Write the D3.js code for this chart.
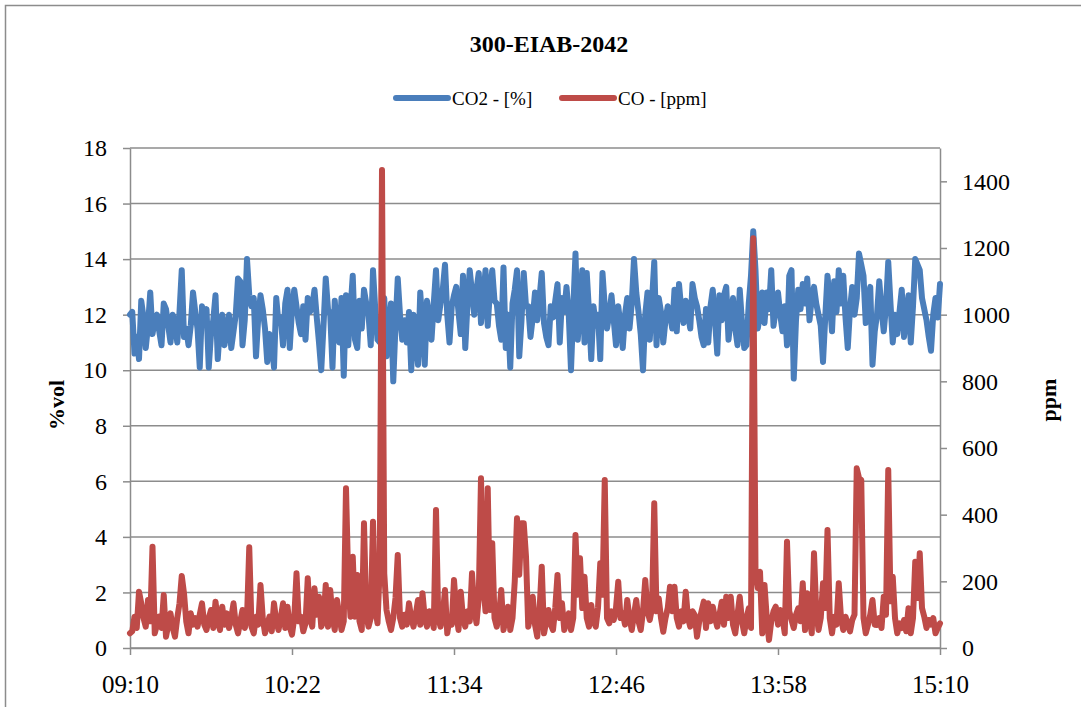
<!DOCTYPE html>
<html>
<head>
<meta charset="utf-8">
<script src="https://cdnjs.cloudflare.com/ajax/libs/d3/7.8.5/d3.min.js"></script>
<style>
  body { margin: 0; background: #fff; }
  svg { display: block; font-family: "Liberation Serif", "DejaVu Serif", serif; }
</style>
</head>
<body>
<svg id="chart"></svg>
<script>
const chartTitle = "300-EIAB-2042";
const seriesNames = ["CO2 - [%]", "CO - [ppm]"];
const startTime = "09:10";
const stepMinutes = 1;
const timeTicks = ["09:10", "10:22", "11:34", "12:46", "13:58", "15:10"];
const leftTicks = [0, 2, 4, 6, 8, 10, 12, 14, 16, 18];
const rightTicks = [0, 200, 400, 600, 800, 1000, 1200, 1400];

// CO2 in %vol, one reading per minute from 09:10
const co2Values = [
    12.0, 12.1, 10.6, 11.2, 10.4, 12.5, 11.9, 10.8, 11.6, 12.8,
    11.3, 11.8, 12.0, 11.4, 10.9, 12.4, 12.2, 11.6, 11.0, 12.0,
    11.7, 11.0, 12.1, 13.6, 11.2, 11.5, 10.9, 11.6, 12.8, 12.1,
    11.5, 10.1, 12.3, 11.8, 12.2, 10.1, 11.3, 11.8, 12.7, 10.4,
    11.6, 12.0, 10.9, 11.5, 12.0, 10.8, 11.4, 12.0, 13.3, 13.2,
    10.9, 11.8, 14.0, 12.7, 12.3, 12.6, 10.5, 11.9, 12.7, 12.2,
    11.5, 10.3, 11.3, 11.0, 10.1, 12.6, 11.7, 11.9, 10.9, 12.4,
    12.9, 10.8, 12.2, 12.9, 12.3, 11.7, 11.3, 12.3, 11.1, 12.6,
    12.1, 12.3, 12.9, 11.9, 11.0, 10.0, 11.6, 13.3, 12.2, 12.0,
    10.1, 12.5, 11.4, 11.0, 12.6, 9.8, 12.7, 10.9, 12.2, 13.4,
    11.1, 10.8, 12.5, 11.5, 12.9, 12.4, 12.0, 10.9, 13.6, 12.2,
    11.1, 11.0, 12.0, 12.6, 10.5, 11.6, 12.4, 9.6, 11.6, 13.3,
    12.0, 11.1, 11.8, 11.0, 12.1, 10.0, 12.0, 11.3, 10.2, 12.8,
    11.6, 10.2, 12.5, 11.9, 11.1, 12.4, 13.6, 11.8, 12.4, 12.9,
    13.8, 12.0, 11.0, 12.3, 12.7, 13.0, 12.1, 11.3, 13.4, 10.8,
    12.4, 13.6, 12.8, 12.0, 12.9, 13.5, 11.7, 12.6, 13.6, 11.6,
    12.9, 13.6, 12.5, 12.4, 11.6, 11.1, 13.7, 10.8, 12.0, 10.1,
    12.4, 12.9, 13.6, 10.5, 11.8, 13.5, 12.3, 12.3, 11.2, 11.9,
    12.8, 11.8, 12.6, 13.5, 11.7, 11.2, 10.9, 12.3, 11.9, 12.5,
    13.1, 11.0, 12.6, 12.1, 13.0, 12.0, 10.0, 12.2, 14.2, 11.1,
    12.2, 13.6, 11.0, 13.5, 12.1, 10.4, 12.3, 11.6, 12.0, 10.4,
    13.5, 12.3, 11.5, 12.0, 12.7, 11.8, 10.9, 12.3, 11.6, 10.8,
    12.0, 12.6, 11.5, 12.4, 14.0, 12.8, 12.1, 11.3, 10.0, 12.0,
    12.8, 11.1, 12.5, 13.9, 10.9, 12.6, 12.1, 11.0, 11.8, 12.3,
    12.0, 11.5, 12.9, 11.4, 13.1, 12.2, 11.7, 12.5, 12.0, 11.5,
    13.1, 12.6, 12.3, 11.8, 11.2, 10.9, 12.2, 11.0, 12.3, 12.9,
    11.8, 10.6, 12.7, 11.8, 12.7, 13.0, 11.1, 11.9, 12.6, 11.5,
    10.9, 12.9, 11.7, 10.8, 10.9, 12.4, 13.4, 15.0, 13.6, 11.5,
    12.0, 12.8, 11.7, 12.8, 12.2, 13.6, 11.6, 12.2, 12.8, 12.0,
    11.4, 12.3, 10.9, 13.4, 13.6, 9.7, 11.8, 12.9, 12.2, 13.1,
    12.4, 13.3, 11.8, 12.6, 13.0, 12.4, 12.0, 11.6, 10.3, 11.9,
    13.4, 12.5, 11.4, 13.2, 12.1, 13.6, 12.4, 13.4, 11.9, 10.8,
    12.2, 13.0, 12.0, 12.6, 14.2, 13.8, 13.4, 11.7, 12.4, 13.0,
    10.2, 11.4, 12.0, 13.2, 12.2, 11.4, 12.3, 13.9, 12.4, 11.0,
    12.0, 11.3, 12.1, 12.9, 11.2, 12.0, 12.7, 11.0, 12.3, 14.0,
    13.8, 13.6, 12.6, 12.2, 11.8, 11.2, 10.7, 12.0, 12.6, 11.9,
    13.1
];

// CO in ppm, same timestamps
const coValues = [
    44, 50, 94, 60, 169, 134, 90, 64, 144, 80,
    304, 44, 70, 94, 60, 159, 34, 70, 104, 60,
    34, 90, 134, 216, 164, 80, 44, 104, 70, 90,
    64, 100, 134, 70, 54, 90, 114, 60, 139, 80,
    54, 124, 70, 104, 60, 90, 134, 70, 44, 80,
    114, 60, 90, 302, 64, 44, 94, 70, 189, 90,
    44, 70, 94, 50, 134, 80, 54, 90, 134, 60,
    124, 64, 40, 90, 224, 80, 94, 50, 74, 209,
    90, 64, 179, 100, 154, 64, 80, 189, 64, 174,
    90, 54, 144, 100, 54, 80, 479, 200, 94, 274,
    94, 219, 80, 54, 374, 100, 64, 90, 379, 120,
    74, 244, 1434, 224, 114, 80, 54, 90, 150, 279,
    90, 64, 100, 70, 134, 90, 64, 100, 144, 70,
    164, 90, 64, 110, 94, 60, 414, 90, 64, 100,
    174, 44, 90, 70, 204, 110, 54, 169, 90, 64,
    110, 80, 224, 120, 74, 150, 509, 194, 110, 479,
    114, 314, 90, 64, 100, 174, 54, 90, 124, 54,
    90, 200, 389, 220, 374, 374, 274, 64, 100, 154,
    70, 34, 110, 244, 44, 80, 114, 70, 54, 120,
    219, 90, 134, 54, 80, 104, 54, 90, 339, 160,
    269, 120, 214, 90, 64, 129, 80, 64, 120, 254,
    160, 504, 90, 74, 110, 84, 120, 199, 90, 104,
    70, 144, 90, 54, 100, 144, 80, 54, 110, 204,
    110, 84, 120, 434, 110, 149, 90, 49, 90, 120,
    184, 110, 184, 90, 64, 110, 80, 169, 90, 64,
    110, 99, 34, 80, 110, 139, 60, 134, 80, 124,
    90, 64, 100, 139, 70, 154, 90, 154, 70, 44,
    100, 154, 80, 44, 90, 119, 60, 1229, 229, 180,
    229, 44, 189, 90, 24, 80, 110, 124, 70, 114,
    90, 44, 319, 110, 84, 60, 100, 119, 80, 194,
    54, 164, 90, 44, 284, 110, 54, 90, 194, 120,
    354, 90, 44, 94, 70, 194, 90, 54, 94, 70,
    50, 84, 100, 539, 510, 504, 90, 44, 70, 100,
    144, 70, 69, 90, 60, 154, 100, 534, 140, 214,
    90, 44, 74, 60, 84, 50, 119, 44, 90, 259,
    150, 284, 120, 94, 60, 84, 70, 90, 44, 60,
    74
];

const width = 1081, height = 707;
const plot = { left: 130, right: 940, top: 148, bottom: 648 };
const blue = "#4a7ebb", red = "#be4b48", gridColor = "#8c8c8c";

const parseTime = d3.timeParse("%H:%M");
const t0 = parseTime(startTime);
const times = co2Values.map((_, i) => d3.timeMinute.offset(t0, i * stepMinutes));

const svg = d3.select("#chart")
              .attr("width", width)
              .attr("height", height);

// outer chart border
svg.append("rect")
   .attr("x", 5.5).attr("y", 5.5)
   .attr("width", width + 20).attr("height", height + 20)
   .attr("fill", "none")
   .attr("stroke", gridColor)
   .attr("stroke-width", 1.5);

const xScale = d3.scaleTime()
                 .domain([parseTime(timeTicks[0]), parseTime(timeTicks[timeTicks.length - 1])])
                 .range([plot.left, plot.right]);

const yLeft = d3.scaleLinear()
                .domain([0, 18])
                .range([plot.bottom, plot.top]);

const yRight = d3.scaleLinear()
                 .domain([0, 1500])
                 .range([plot.bottom, plot.top]);

// gridlines
svg.append("g")
   .selectAll("line")
   .data(leftTicks)
   .enter()
   .append("line")
   .attr("x1", plot.left).attr("x2", plot.right)
   .attr("y1", d => yLeft(d)).attr("y2", d => yLeft(d))
   .attr("stroke", gridColor)
   .attr("stroke-width", 1.5);

const styleAxis = g => {
    g.selectAll("path.domain").attr("stroke", gridColor).attr("stroke-width", 1.5);
    g.selectAll(".tick line").attr("stroke", gridColor).attr("stroke-width", 1.5);
    g.selectAll(".tick text").attr("fill", "#000").style("font-family", "Liberation Serif");
};

svg.append("g")
   .attr("transform", `translate(${plot.left},0)`)
   .call(d3.axisLeft(yLeft).tickValues(leftTicks).tickSize(7).tickSizeOuter(0).tickPadding(16))
   .call(styleAxis)
   .selectAll(".tick text").style("font-size", "24px");

svg.append("g")
   .attr("transform", `translate(${plot.right},0)`)
   .call(d3.axisRight(yRight).tickValues(rightTicks).tickFormat(d3.format("d"))
           .tickSize(7).tickSizeOuter(0).tickPadding(15))
   .call(styleAxis)
   .selectAll(".tick text").style("font-size", "24px");

svg.append("g")
   .attr("transform", `translate(0,${plot.bottom})`)
   .call(d3.axisBottom(xScale)
           .tickValues(timeTicks.map(parseTime))
           .tickFormat(d3.timeFormat("%H:%M"))
           .tickSize(7).tickSizeOuter(0).tickPadding(20))
   .call(styleAxis)
   .selectAll(".tick text").style("font-size", "25px");

// series
const co2Line = d3.line()
                  .x((d, i) => xScale(times[i]))
                  .y(d => yLeft(d));

const coLine = d3.line()
                 .x((d, i) => xScale(times[i]))
                 .y(d => yRight(d));

svg.append("path")
   .datum(co2Values)
   .attr("d", co2Line)
   .attr("fill", "none")
   .attr("stroke", blue)
   .attr("stroke-width", 6)
   .attr("stroke-linejoin", "round")
   .attr("stroke-linecap", "round");

svg.append("path")
   .datum(coValues)
   .attr("d", coLine)
   .attr("fill", "none")
   .attr("stroke", red)
   .attr("stroke-width", 6)
   .attr("stroke-linejoin", "round")
   .attr("stroke-linecap", "round");

// title
svg.append("text")
   .attr("x", 549).attr("y", 52)
   .attr("text-anchor", "middle")
   .style("font-size", "24px")
   .style("font-weight", "bold")
   .text(chartTitle);

// legend
const legend = svg.append("g");
const legendItems = [
    { name: seriesNames[0], color: blue, x: 396 },
    { name: seriesNames[1], color: red, x: 562 }
];
legendItems.forEach(item => {
    legend.append("line")
          .attr("x1", item.x).attr("x2", item.x + 52)
          .attr("y1", 98).attr("y2", 98)
          .attr("stroke", item.color)
          .attr("stroke-width", 6)
          .attr("stroke-linecap", "round");
    legend.append("text")
          .attr("x", item.x + 56).attr("y", 105)
          .style("font-size", "19px")
          .text(item.name);
});

// axis titles
svg.append("text")
   .attr("transform", "translate(64,405) rotate(-90)")
   .attr("text-anchor", "middle")
   .style("font-size", "22px")
   .style("font-weight", "bold")
   .text("%vol");

svg.append("text")
   .attr("transform", "translate(1056,400) rotate(-90)")
   .attr("text-anchor", "middle")
   .style("font-size", "22px")
   .style("font-weight", "bold")
   .text("ppm");
</script>
</body>
</html>
